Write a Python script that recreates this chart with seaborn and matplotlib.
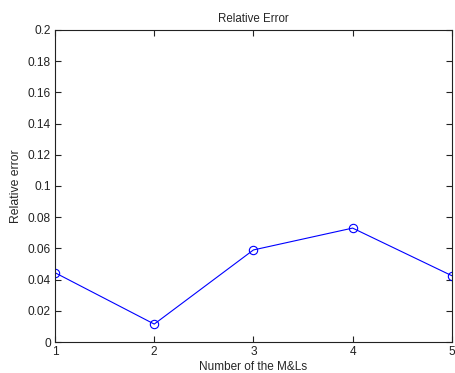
import matplotlib
matplotlib.use("Agg")
import matplotlib.pyplot as plt
import seaborn as sns
import pandas as pd

# values
num_mls = [1, 2, 3, 4, 5]
rel_error = [0.0444, 0.0115, 0.059, 0.073, 0.0425]
y_ticks = [0, 0.02, 0.04, 0.06, 0.08, 0.1, 0.12, 0.14, 0.16, 0.18, 0.2]
y_tick_labels = ["0", "0.02", "0.04", "0.06", "0.08", "0.1", "0.12", "0.14", "0.16", "0.18", "0.2"]

sns.set_theme(style="white")
plt.rcParams["font.family"] = ["Liberation Sans", "DejaVu Sans"]

df = pd.DataFrame({"n": num_mls, "err": rel_error})

fig = plt.figure(figsize=(4.55, 3.73), dpi=100)
ax = fig.add_axes([0.121, 0.083, 0.872, 0.837])
sns.lineplot(data=df, x="n", y="err", ax=ax, color="#0000ff", lw=0.8,
             marker="o", markersize=6, markerfacecolor="none",
             markeredgecolor="#0000ff", markeredgewidth=0.8)

ax.set_xlim(1, 5)
ax.set_ylim(0, 0.2)
ax.set_xticks(num_mls)
ax.set_xticklabels([str(v) for v in num_mls])
ax.set_yticks(y_ticks)
ax.set_yticklabels(y_tick_labels)
ax.tick_params(direction="in", length=4, width=0.8, labelsize=8.6,
               top=True, right=True, bottom=True, left=True, colors="#222222",
               labelcolor="#222222", pad=3)
for s in ax.spines.values():
    s.set_color("#222222")
    s.set_linewidth(0.8)

ax.set_xlabel("Number of the M&Ls", fontsize=8.5, labelpad=2)
ax.set_ylabel("Relative error", fontsize=8.8, labelpad=4)
ax.set_title("Relative Error", fontsize=8.3, pad=6)

fig.savefig("out.png", dpi=100)
plt.close(fig)
